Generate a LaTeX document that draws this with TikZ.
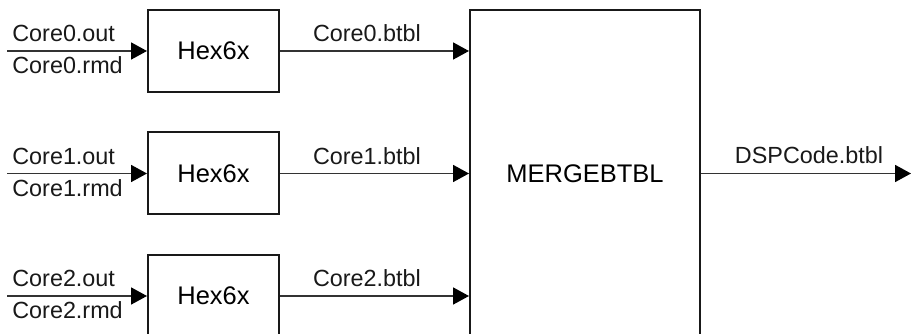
\documentclass[tikz,border=0pt]{standalone}
\usepackage{fontspec}
\setmainfont{Liberation Sans}
\usetikzlibrary{arrows.meta}
\usetikzlibrary{graphs}

\tikzset{
  box/.style={draw=black!90, line width=0.04cm, minimum width=2.62cm, minimum height=1.64cm, font=\fontsize{14.5}{17}\selectfont},
  lbl/.style={inner sep=0pt, font=\fontsize{13.3}{16}\selectfont, text=black!90},
  wire/.style={draw=black!80, line width=0.035cm, -{Triangle[length=0.32cm,width=0.34cm,fill=black,color=black]}}
}

\begin{document}
\begin{tikzpicture}
        \useasboundingbox (0,0) rectangle (18.22,-6.68);
        \node[box] (hex0) at (4.27,-1.02) {Hex6x}; \node[box] (hex1) at
        (4.27,-3.47) {Hex6x}; \node[box] (hex2) at (4.27,-5.92) {Hex6x};
        \node[box, minimum width=4.6cm, minimum height=6.54cm] (merge) at
        (11.7,-3.47) {MERGEBTBL};

        \coordinate (in0) at (0.14,-1.02); \coordinate (in1) at (0.14,-3.47);
        \coordinate (in2) at (0.14,-5.92); \coordinate (out) at (18.22,-3.47);

        \node[lbl, anchor=base west] (out0) at (0.24,-0.84) {Core0.out};
        \node[lbl, anchor=base west] (rmd0) at (0.24,-1.48) {Core0.rmd};
        \node[lbl, anchor=base west] (out1) at (0.24,-3.29) {Core1.out};
        \node[lbl, anchor=base west] (rmd1) at (0.24,-3.93) {Core1.rmd};
        \node[lbl, anchor=base west] (out2) at (0.24,-5.74) {Core2.out};
        \node[lbl, anchor=base west] (rmd2) at (0.24,-6.38) {Core2.rmd};
        \node[lbl, anchor=base] (btbl0) at (7.34,-0.84) {Core0.btbl};
        \node[lbl, anchor=base] (btbl1) at (7.34,-3.29) {Core1.btbl};
        \node[lbl, anchor=base] (btbl2) at (7.34,-5.74) {Core2.btbl};
        \node[lbl, anchor=base] (dsp) at (16.18,-3.27) {DSPCode.btbl};

        \draw[wire] (in0) -- (hex0); \draw[wire] (in1) -- (hex1);
        \draw[wire] (in2) -- (hex2);
        \draw[wire] (hex0) -- (hex0 -| merge.west);
        \draw[wire] (hex1) -- (hex1 -| merge.west);
        \draw[wire] (hex2) -- (hex2 -| merge.west);
        \draw[wire] (merge) -- (out);
    \end{tikzpicture}
\end{document}
